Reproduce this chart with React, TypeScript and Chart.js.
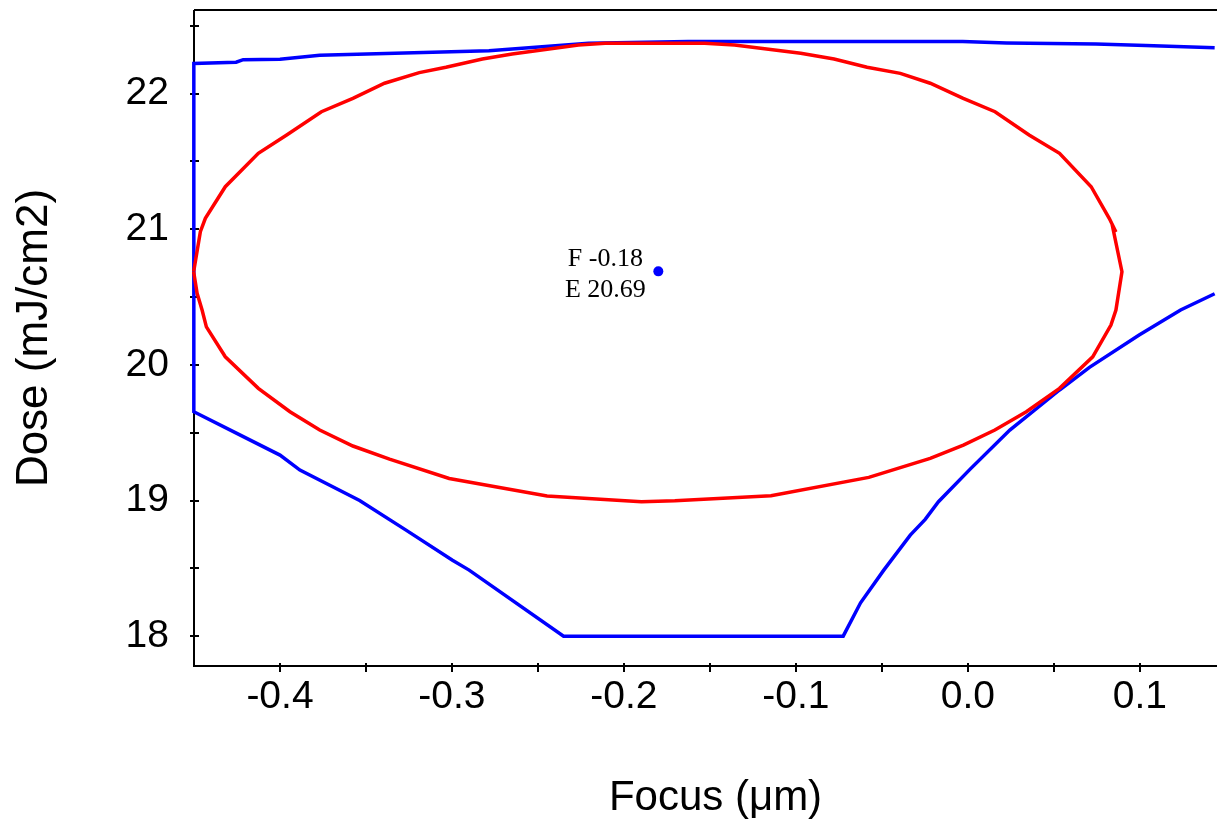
import React, { useEffect, useRef } from "react";
import { Chart, registerables } from "chart.js";

Chart.register(...registerables);

// Process window boundary (blue)
const windowFocus = [0.1435, 0.1035, 0.0745, 0.0225, -0.003, -0.1627, -0.2206, -0.2785, -0.3769, -0.4, -0.4214, -0.4255, -0.4501, -0.4501, -0.4251, -0.4, -0.3884, -0.3537, -0.3267, -0.2997, -0.29, -0.2351, -0.0725, -0.0624, -0.0489, -0.0335, -0.0248, -0.0171, 0.0012, 0.0244, 0.0533, 0.0707, 0.0996, 0.1237, 0.1435];
const windowDose = [22.338, 22.356, 22.367, 22.374, 22.384, 22.385, 22.372, 22.317, 22.283, 22.254, 22.251, 22.232, 22.223, 19.655, 19.495, 19.335, 19.225, 19.001, 18.782, 18.56, 18.487, 18.0, 18.0, 18.246, 18.487, 18.745, 18.861, 18.991, 19.23, 19.52, 19.815, 19.982, 20.22, 20.405, 20.525];

// Fitted ellipse (red)
const ellipseFocus = [-0.4502, -0.4463, -0.4434, -0.4318, -0.4126, -0.3961, -0.3759, -0.3576, -0.3392, -0.319, -0.3035, -0.2823, -0.265, -0.2264, -0.2109, -0.1531, -0.1357, -0.0972, -0.0778, -0.0586, -0.0393, -0.0219, -0.0027, 0.0158, 0.0356, 0.0533, 0.0717, 0.0822, 0.0861, 0.0842, 0.0896, 0.0861, 0.0832, 0.0726, 0.0533, 0.034, 0.0157, -0.0026, -0.0219, -0.0576, -0.1145, -0.1704, -0.1898, -0.2447, -0.3016, -0.3363, -0.3576, -0.3769, -0.3942, -0.4126, -0.4318, -0.4428, -0.4453, -0.4482, -0.4502];
const ellipseDose = [20.687, 20.982, 21.081, 21.314, 21.56, 21.695, 21.867, 21.966, 22.077, 22.155, 22.195, 22.256, 22.293, 22.359, 22.372, 22.372, 22.359, 22.298, 22.256, 22.195, 22.15, 22.077, 21.966, 21.867, 21.695, 21.56, 21.314, 21.081, 20.98, 21.017, 20.687, 20.405, 20.294, 20.06, 19.827, 19.655, 19.52, 19.409, 19.311, 19.171, 19.035, 18.998, 18.991, 19.033, 19.163, 19.306, 19.402, 19.52, 19.655, 19.827, 20.06, 20.281, 20.405, 20.528, 20.687];

// Optimum point
const optimumFocus = [-0.18];
const optimumDose = [20.69];
const annotationLines = ["F -0.18", "E 20.69"];

const xTitle = "Focus (\u03bcm)";
const yTitle = "Dose (mJ/cm2)";

const X_MIN = -0.45;
const X_MAX = 0.1565;
const Y_MIN = 17.78;
const Y_MAX = 22.617;

const axesPlugin = {
  id: "axesPlugin",
  beforeDatasetsDraw(chart: any) {
    const { ctx, chartArea } = chart;
    const { left, right, top, bottom } = chartArea;
    ctx.save();
    ctx.strokeStyle = "#000";
    ctx.lineWidth = 2;
    ctx.beginPath();
    ctx.moveTo(left, top);
    ctx.lineTo(right, top);
    ctx.moveTo(left, top);
    ctx.lineTo(left, bottom);
    ctx.lineTo(right, bottom);
    ctx.stroke();
    const ys = chart.scales.y;
    ctx.beginPath();
    ys.ticks.forEach((t: any) => {
      const py = Math.round(ys.getPixelForValue(t.value));
      if (py < top + 2 || py > bottom - 2) return;
      ctx.moveTo(left - 4, py);
      ctx.lineTo(left + 5, py);
    });
    const xs = chart.scales.x;
    xs.ticks.forEach((t: any) => {
      const px = Math.round(xs.getPixelForValue(t.value));
      if (px < left + 2 || px > right - 2) return;
      ctx.moveTo(px, bottom - 3);
      ctx.lineTo(px, bottom + 6);
    });
    ctx.stroke();
    ctx.restore();
  },
  afterDatasetsDraw(chart: any) {
    const { ctx } = chart;
    const px = chart.scales.x.getPixelForValue(optimumFocus[0]);
    const py = chart.scales.y.getPixelForValue(optimumDose[0]);
    ctx.save();
    ctx.fillStyle = "#000";
    ctx.font = '26px "Liberation Serif", "Times New Roman", serif';
    ctx.textAlign = "center";
    ctx.textBaseline = "alphabetic";
    ctx.fillText(annotationLines[0], px - 53, py - 5);
    ctx.fillText(annotationLines[1], px - 53, py + 26);
    ctx.restore();
  },
};

export default function App() {
  const canvasRef = useRef<HTMLCanvasElement | null>(null);

  useEffect(() => {
    const canvas = canvasRef.current;
    if (!canvas) return;
    const chart = new Chart(canvas, {
      type: "scatter",
      data: {
        datasets: [
          {
            label: "optimum",
            data: optimumFocus.map((x, i) => ({ x, y: optimumDose[i] })),
            showLine: false,
            pointRadius: 5,
            pointBackgroundColor: "#0000ff",
            pointBorderWidth: 0,
            borderColor: "#0000ff",
          },
          {
            label: "ellipse",
            data: ellipseFocus.map((x, i) => ({ x, y: ellipseDose[i] })),
            showLine: true,
            borderColor: "#ff0000",
            borderWidth: 3.5,
            pointRadius: 0,
            tension: 0,
            clip: 4,
          },
          {
            label: "window",
            data: windowFocus.map((x, i) => ({ x, y: windowDose[i] })),
            showLine: true,
            borderColor: "#0000ff",
            borderWidth: 3.5,
            pointRadius: 0,
            tension: 0,
            clip: 4,
          },
        ],
      },
      options: {
        animation: false,
        responsive: false,
        devicePixelRatio: 1,
        layout: { padding: { top: 10, left: 0, right: 0, bottom: 0 } },
        plugins: {
          legend: { display: false },
          tooltip: { enabled: false },
        },
        scales: {
          x: {
            type: "linear",
            min: X_MIN,
            max: X_MAX,
            grid: { display: false },
            border: { display: false },
            ticks: {
              stepSize: 0.05,
              includeBounds: false,
              autoSkip: false,
              maxRotation: 0,
              minRotation: 0,
              padding: 4,
              color: "#000",
              font: { family: '"Liberation Sans", Arial, sans-serif', size: 39, lineHeight: 1 },
              callback: (v: any) => {
                const r = Math.round(Number(v) * 20);
                if (r % 2 !== 0) return "";
                return (r / 20).toFixed(1);
              },
            },
            title: {
              display: true,
              text: xTitle,
              color: "#000",
              font: { family: '"Liberation Sans", Arial, sans-serif', size: 42, lineHeight: 1.2 },
              padding: { top: 0, bottom: 0 },
            },
            afterFit: (s: any) => {
              s.height = 158;
              s.paddingLeft = 0;
              s.paddingRight = 0;
            },
          },
          y: {
            type: "linear",
            min: Y_MIN,
            max: Y_MAX,
            grid: { display: false },
            border: { display: false },
            ticks: {
              stepSize: 0.5,
              includeBounds: false,
              autoSkip: false,
              padding: 17,
              color: "#000",
              font: { family: '"Liberation Sans", Arial, sans-serif', size: 39, lineHeight: 1 },
              callback: (v: any) => {
                const n = Number(v);
                if (Math.abs(n - Math.round(n)) > 1e-6) return "";
                return String(Math.round(n));
              },
            },
            title: {
              display: true,
              text: yTitle,
              color: "#000",
              font: { family: '"Liberation Sans", Arial, sans-serif', size: 44, lineHeight: 1.2 },
              padding: { top: 8, bottom: 0 },
            },
            afterFit: (s: any) => {
              s.width = 194;
              s.paddingTop = 0;
              s.paddingBottom = 0;
            },
          },
        },
      },
      plugins: [axesPlugin],
    } as any);
    return () => chart.destroy();
  }, []);

  return (
    <div
      style={{
        position: "fixed",
        left: 0,
        top: 0,
        width: 1217,
        height: 824,
        overflow: "hidden",
        background: "#fff",
      }}
    >
      <canvas ref={canvasRef} width={1242} height={824} style={{ display: "block", width: 1242, height: 824 }} />
    </div>
  );
}
